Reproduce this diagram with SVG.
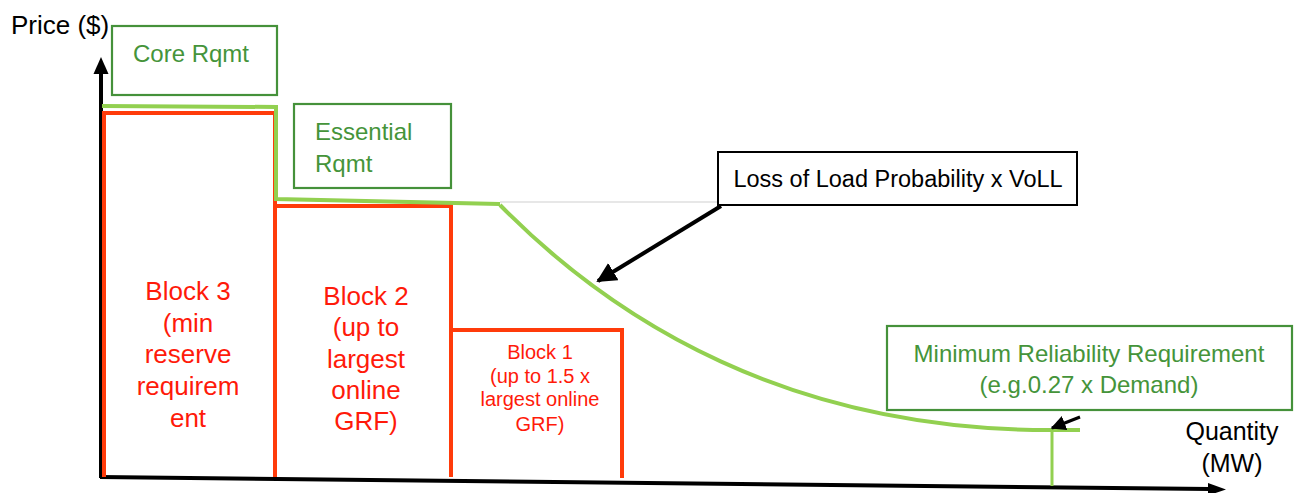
<svg xmlns="http://www.w3.org/2000/svg" width="1300" height="493" viewBox="0 0 1300 493">
<defs>
<style>
.t{font-family:"Liberation Sans",Arial,sans-serif}
.red{fill:#ff1a0a;text-anchor:middle}
.grn{fill:#45943a}
.box{fill:#fff;stroke:#45913a;stroke-width:2.2}
.blk{fill:none;stroke:#ff3b0a;stroke-width:4}
.lg{fill:none;stroke:#92d050;stroke-width:4}
.ax{stroke:#000;stroke-width:4;fill:none}
</style>
<marker id="ah" markerWidth="5" markerHeight="5" refX="4.5" refY="2.5" orient="auto" markerUnits="strokeWidth">
<path d="M0,0 L5,2.5 L0,5 Z" fill="#000"/>
</marker>
</defs>
<rect width="1300" height="493" fill="#fff"/>

<g id="axes">
<line class="ax" x1="101" y1="478" x2="101" y2="72"/>
<path d="M101,57 L108.5,74 L93.5,74 Z" fill="#000"/>
<line class="ax" x1="100" y1="477" x2="1210" y2="489"/>
<path d="M1226,489.5 L1208,495.5 L1208,483 Z" fill="#000"/>
<text class="t" x="11" y="34" font-size="26">Price ($)</text>
<text class="t" x="1232" y="440" font-size="25" text-anchor="middle">Quantity</text>
<text class="t" x="1232" y="472" font-size="25" text-anchor="middle">(MW)</text>
</g>

<g id="block3">
<path class="blk" d="M104,477 V113 H275 V477"/>
<g class="t red" font-size="26">
<text x="188" y="300">Block 3</text>
<text x="188" y="332">(min</text>
<text x="188" y="363">reserve</text>
<text x="188" y="395">requirem</text>
<text x="188" y="427">ent</text>
</g>
</g>

<g id="block2">
<path class="blk" d="M275,206 H451 V477"/>
<g class="t red" font-size="26">
<text x="366" y="305">Block 2</text>
<text x="366" y="336">(up to</text>
<text x="366" y="368">largest</text>
<text x="366" y="399">online</text>
<text x="366" y="430">GRF)</text>
</g>
</g>

<g id="block1">
<path class="blk" d="M451,330 H622 V478"/>
<g class="t red" font-size="20">
<text x="540" y="359">Block 1</text>
<text x="540" y="383">(up to 1.5 x</text>
<text x="540" y="406">largest online</text>
<text x="540" y="431">GRF)</text>
</g>
</g>

<g id="demand-curve">
<line x1="500" y1="202" x2="718" y2="202" stroke="#cfcfcf" stroke-width="1.2"/>
<path class="lg" d="M102,106 L276,107 V199 L500,204"/>
<path class="lg" d="M500,205 C615,322 790,430 1050,430 L1080,430" stroke-width="4"/>
<line x1="1052" y1="430" x2="1052" y2="486" stroke="#92d050" stroke-width="3"/>
</g>

<g id="core-rqmt">
<rect class="box" x="112" y="26" width="165" height="69"/>
<text class="t grn" x="191" y="62" font-size="24" text-anchor="middle">Core Rqmt</text>
</g>

<g id="essential-rqmt">
<rect class="box" x="294" y="104" width="157" height="84"/>
<text class="t grn" x="315" y="140" font-size="24">Essential</text>
<text class="t grn" x="315" y="172" font-size="24">Rqmt</text>
</g>

<g id="lolp">
<rect x="718" y="152" width="359" height="53" fill="#fff" stroke="#000" stroke-width="2"/>
<text class="t" x="898" y="187" font-size="23.5" text-anchor="middle">Loss of Load Probability x VoLL</text>
</g>

<g id="min-reliability">
<rect class="box" x="887" y="326" width="405" height="84"/>
<text class="t grn" x="1089" y="362" font-size="24" text-anchor="middle">Minimum Reliability Requirement</text>
<text class="t grn" x="1089" y="393" font-size="24" text-anchor="middle">(e.g.0.27 x Demand)</text>
</g>

<g id="connectors">
<line x1="721" y1="206" x2="598" y2="281" stroke="#000" stroke-width="4" marker-end="url(#ah)"/>
<line x1="1080" y1="417" x2="1052" y2="428" stroke="#000" stroke-width="3" marker-end="url(#ah)"/>
</g>
</svg>
